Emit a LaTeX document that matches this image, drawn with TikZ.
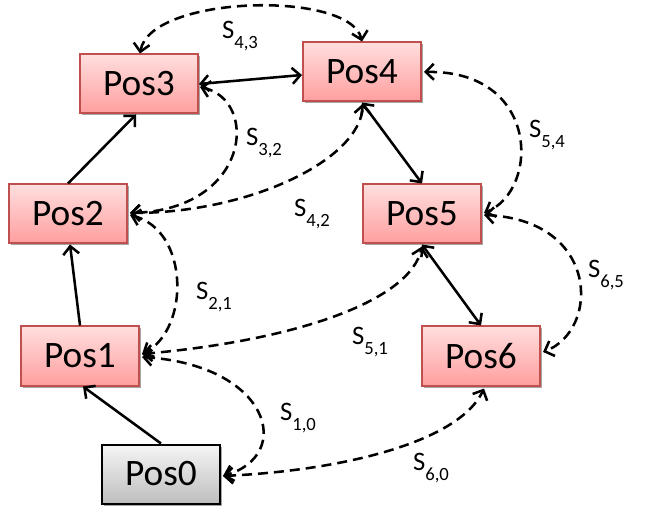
\documentclass[tikz,border=0pt]{standalone}
\usepackage{fontspec}
\setmainfont{Carlito}
\usetikzlibrary{arrows.meta,shadows,calc}
\definecolor{boxborder}{RGB}{192,80,77}
\definecolor{boxtop}{RGB}{255,222,222}
\definecolor{boxbot}{RGB}{255,158,158}
\definecolor{graytop}{RGB}{245,245,245}
\definecolor{graybot}{RGB}{190,190,190}
\tikzset{
  posbox/.style={rectangle, draw=boxborder, line width=1.5pt, top color=boxtop, bottom color=boxbot,
    minimum width=88.5pt, minimum height=44.25pt, inner sep=0pt,
    font=\fontsize{28}{30}\selectfont,
    drop shadow={shadow xshift=1.5pt, shadow yshift=-1.5pt, opacity=0.35, fill=black}},
  startbox/.style={posbox, draw=black, top color=graytop, bottom color=graybot},
  link/.style={line width=1.9pt, -{Straight Barb[length=6pt,width=12pt,line width=1.9pt]}},
  blink/.style={line width=1.9pt, {Straight Barb[length=6pt,width=12pt,line width=1.9pt]}-{Straight Barb[length=6pt,width=12pt,line width=1.9pt]}},
  dlink/.style={blink, dash pattern=on 7.5pt off 4.5pt},
  lbl/.style={font=\fontsize{20}{22}\selectfont, inner sep=0pt}
}
\newcommand{\Slab}[1]{S\raisebox{-0.35em}{\fontsize{14}{16}\selectfont #1}}
\begin{document}
\begin{tikzpicture}[x=0.75pt,y=-0.75pt]
\useasboundingbox (0,0) rectangle (660,516);
\node[posbox] (p3) at (139,84) {Pos3};
\node[posbox] (p4) at (362,72) {Pos4};
\node[posbox] (p2) at (68,214) {Pos2};
\node[posbox] (p5) at (422,214) {Pos5};
\node[posbox] (p1) at (80,356) {Pos1};
\node[posbox] (p6) at (481,356) {Pos6};
\node[startbox] (p0) at (161,474) {Pos0};

% solid arrows
\draw[link] (p0.north) -- ($(p1.south)+(3,0)$);
\draw[link] (p1.north) -- ($(p2.south)+(2,0)$);
\draw[link] (p2.north) -- ($(p3.south)+(-3,0)$);
\draw[blink] (p3.east) -- ($(p4.west)+(0,3)$);
\draw[blink] (p4.south) -- (p5.north);
\draw[blink] (p5.south) -- (p6.north);

% dashed arrows
\draw[dlink] ($(p3.north)+(1,0)$) .. controls (150,-5) and (350,-10) .. (p4.north);
\draw[dlink] ($(p3.east)+(1,3)$) .. controls (260,100) and (250,210) .. ($(p2.east)+(2,-1)$);
\draw[dlink] ($(p2.east)+(2,-1)$) .. controls (250,213) and (360,160) .. ($(p4.south)+(1,1)$);
\draw[dlink] ($(p2.east)+(2,1)$) .. controls (190,230) and (190,330) .. ($(p1.east)+(2,-2)$);
\draw[dlink] ($(p1.east)+(2,-2)$) .. controls (300,340) and (410,300) .. ($(p5.south)+(0,2)$);
\draw[dlink] ($(p1.east)+(2,1)$) .. controls (270,365) and (295,455) .. ($(p0.east)+(2,2)$);
\draw[dlink] ($(p0.east)+(2,2)$) .. controls (350,470) and (460,440) .. ($(p6.south)+(3,2)$);
\draw[dlink] ($(p4.east)+(2,0)$) .. controls (540,70) and (540,190) .. ($(p5.east)+(2,-1)$);
\draw[dlink] ($(p5.east)+(2,1)$) .. controls (600,220) and (600,330) .. ($(p6.east)+(2,-4)$);

% labels
\node[lbl] (l43) at (240,36) {\Slab{4,3}};
\node[lbl] (l32) at (264,143) {\Slab{3,2}};
\node[lbl] (l42) at (312,214) {\Slab{4,2}};
\node[lbl] (l54) at (547,135) {\Slab{5,4}};
\node[lbl] (l21) at (214,297) {\Slab{2,1}};
\node[lbl] (l51) at (370,342) {\Slab{5,1}};
\node[lbl] (l65) at (606,275) {\Slab{6,5}};
\node[lbl] (l10) at (298,418) {\Slab{1,0}};
\node[lbl] (l60) at (431,468) {\Slab{6,0}};
\end{tikzpicture}
\end{document}
